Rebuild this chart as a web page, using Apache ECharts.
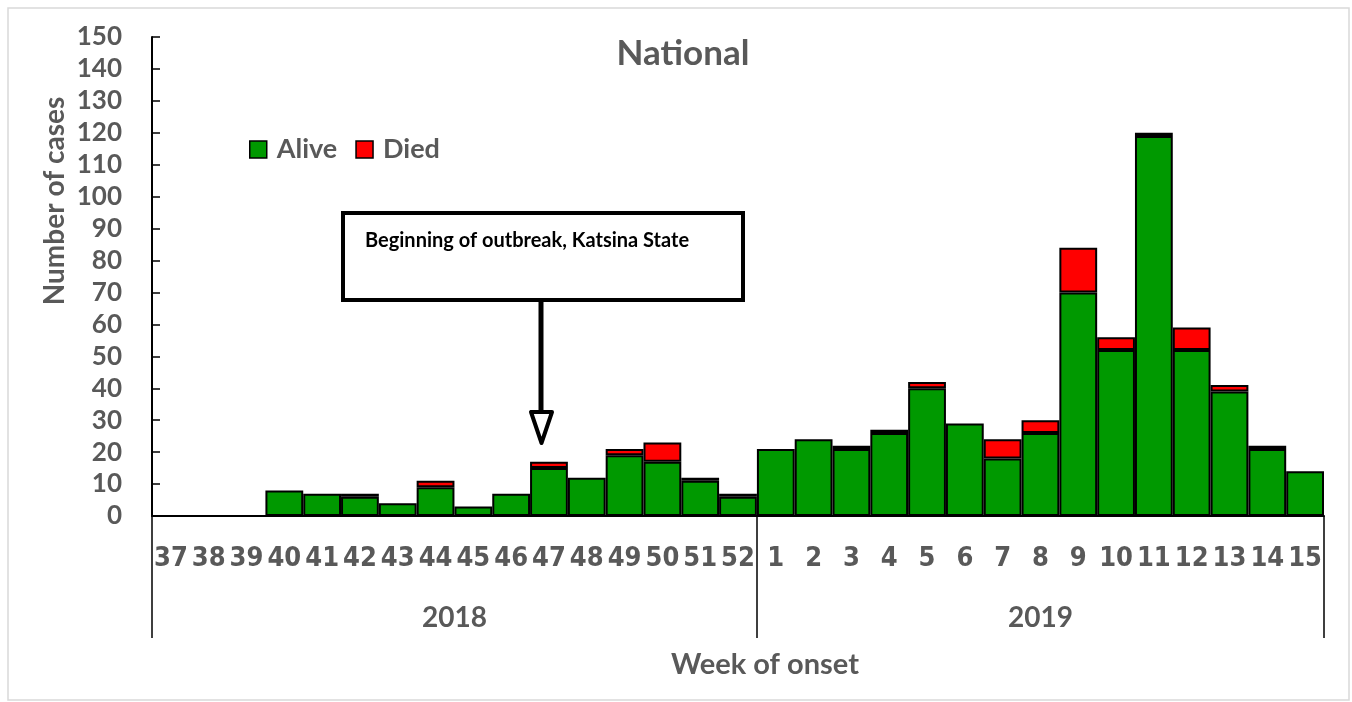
<!DOCTYPE html>
<html>
<head>
<meta charset="utf-8">
<script src="https://cdn.jsdelivr.net/npm/echarts@6/dist/echarts.min.js"></script>
<style>html,body{margin:0;padding:0;background:#fff}#c{width:1352px;height:702px}</style>
</head>
<body>
<div id="c"></div>
<script>
var weeks = ['37','38','39','40','41','42','43','44','45','46','47','48','49','50','51','52',
             '1','2','3','4','5','6','7','8','9','10','11','12','13','14','15'];
var alive = [0,0,0,8,7,6,4,9,3,7,15,12,19,17,11,6,
             21,24,21,26,40,29,18,26,70,52,119,52,39,21,14];
var died  = [0,0,0,0,0,1,0,2,0,0,2,0,2,6,1,1,
             0,0,1,1,2,0,6,4,14,4,1,7,2,1,0];
var years = ['2018','2019'];
var yearWeekCounts = [16,15];
var yTicks = {min:0, max:150, interval:10};

var yearBounds = [0];
var yearCenters = [];
(function(){var acc=0;for(var i=0;i<yearWeekCounts.length;i++){yearCenters.push(acc+yearWeekCounts[i]/2);acc+=yearWeekCounts[i];yearBounds.push(acc);}})();

var GRAY = '#595959';
var FONT = 'Lato, "Open Sans", sans-serif';
var chart = echarts.init(document.getElementById('c'), null, {renderer:'canvas'});
chart.setOption({
  animation:false,
  backgroundColor:'#fff',
  title:{text:'National', left:678, top:31, textAlign:'center',
    textStyle:{fontFamily:FONT, fontWeight:'bold', fontSize:35, color:GRAY}},
  legend:{left:244, top:131, icon:'rect', itemWidth:17, itemHeight:17, itemGap:18,
    itemStyle:{borderColor:'#000', borderWidth:1.5},
    textStyle:{fontFamily:FONT, fontWeight:'bold', fontSize:27, color:GRAY, padding:[0,0,0,5]},
    data:['Alive','Died']},
  grid:{left:152, right:28, top:37, bottom:186, containLabel:false},
  xAxis:[{
    type:'category', data:weeks, boundaryGap:true,
    axisLine:{show:true, lineStyle:{color:'#000', width:2}},
    axisTick:{show:false},
    axisLabel:{interval:0, margin:29, fontFamily:'"Liberation Sans Narrow", "DejaVu Sans Condensed", sans-serif',
      fontWeight:'bold', fontSize:27, color:GRAY},
    splitLine:{show:false}
  },{
    type:'value', min:0, max:weeks.length, position:'bottom', offset:122,
    axisLine:{show:false},
    axisTick:{show:true, inside:true, length:122, customValues:yearBounds, lineStyle:{color:'#000', width:1.5}},
    axisLabel:{show:true, inside:true, margin:6, customValues:yearCenters,
      formatter:function(v){var i=yearCenters.indexOf(v);return i>=0?years[i]:'';},
      fontFamily:FONT, fontWeight:'bold', fontSize:28, color:GRAY},
    splitLine:{show:false},
    name:'Week of onset', nameLocation:'middle', nameGap:12,
    nameTextStyle:{fontFamily:FONT, fontWeight:'bold', fontSize:29, color:GRAY, padding:[0,0,0,54]}
  }],
  yAxis:{
    type:'value', min:yTicks.min, max:yTicks.max, interval:yTicks.interval,
    axisLine:{show:true, lineStyle:{color:'#000', width:2}},
    axisTick:{show:true, inside:true, length:8, lineStyle:{color:'#000', width:1.5}},
    axisLabel:{margin:30, fontFamily:FONT, fontWeight:'bold', fontSize:26, color:GRAY},
    splitLine:{show:false}
  },
  series:[
    {name:'Alive', type:'bar', stack:'total', barCategoryGap:'0%', xAxisIndex:0,
      data:alive.map(function(v){return v===0?'-':v;}),
      itemStyle:{color:'#009900', borderColor:'#000', borderWidth:2}},
    {name:'Died', type:'bar', stack:'total', barCategoryGap:'0%', xAxisIndex:0,
      data:died.map(function(v){return v===0?'-':v;}),
      itemStyle:{color:'#ff0000', borderColor:'#000', borderWidth:2}}
  ],
  graphic:[
    {type:'rect', shape:{x:8,y:8,width:1341,height:692}, style:{fill:'none', stroke:'#d9d9d9', lineWidth:1.5}, z:-1, silent:true},
    {type:'text', x:55, y:201, rotation:Math.PI/2,
      style:{text:'Number of cases', fontFamily:FONT, fontWeight:'bold', fontSize:28, fill:GRAY, align:'center', verticalAlign:'middle'}},
    {type:'rect', shape:{x:343,y:213,width:400,height:87}, style:{fill:'#fff', stroke:'#000', lineWidth:4}, z:100},
    {type:'text', x:365, y:241, z:101,
      style:{text:'Beginning of outbreak, Katsina State', fontFamily:FONT, fontWeight:'bold', fontSize:20, fill:'#000', verticalAlign:'middle'}},
    {type:'line', shape:{x1:541,y1:300,x2:541,y2:412}, style:{stroke:'#000', lineWidth:5}, z:100},
    {type:'polygon', shape:{points:[[531,412],[552,412],[541.5,443]]}, style:{fill:'#fff', stroke:'#000', lineWidth:4, lineJoin:'round'}, z:100}
  ]
});
</script>
</body>
</html>
